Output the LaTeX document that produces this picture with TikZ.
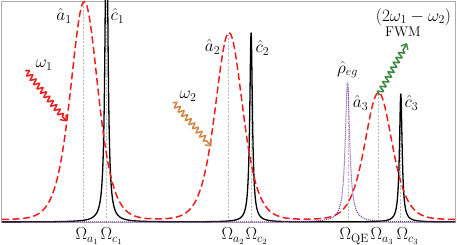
\documentclass[tikz,border=0pt]{standalone}
\usetikzlibrary{decorations.pathmorphing,arrows.meta}
\definecolor{curvered}{RGB}{235,30,30}
\definecolor{qepurple}{RGB}{112,48,160}
\definecolor{pumporange}{RGB}{210,135,70}
\definecolor{fwmgreen}{RGB}{60,135,65}
\tikzset{
  declare function={
    sh(\x,\c,\w)=(2/(exp(min(abs(\x-\c)/\w,8))+exp(-min(abs(\x-\c)/\w,8))))^2;
    lor(\x,\c,\g)=1/(1+(min(abs(\x-\c)/\g,100))^2);
    redf(\x)=219.5-218*sh(\x,84.3,18.3)-187*sh(\x,229,18.3)-127*sh(\x,378.5,18.3);
    blkf(\x)=222-350*lor(\x,106.5,1.6)-189*lor(\x,251.1,1.6)-128*lor(\x,400.8,1.6);
    purf(\x)=222-139*lor(\x,347.5,2.7);
  },
  frame/.style={draw=gray!65,line width=0.7pt},
  marker/.style={draw=gray!55,line width=0.45pt,dash pattern=on 2pt off 1.5pt},
  cavity/.style={draw=curvered,line width=1.5pt,dash pattern=on 7pt off 3.5pt},
  mode/.style={draw=black,line width=1.3pt},
  qe/.style={draw=qepurple,line width=1pt,dash pattern=on 1pt off 1pt},
  wavy/.style={line width=1.5pt,decorate,
    decoration={snake,segment length=5.5pt,amplitude=2.6pt,pre length=1pt,post length=6pt},
    -{Straight Barb[length=4.5pt,width=8pt,line width=1.4pt]}},
  lbl/.style={font=\fontsize{16.5}{19}\selectfont,inner sep=0pt},
  txt/.style={font=\fontsize{14}{17}\selectfont,inner sep=0pt},
}
\begin{document}
\begin{tikzpicture}[x=1pt,y=-1pt]
\useasboundingbox (0,0) rectangle (457,245);
\draw[frame] (1.8,1) rectangle (455.2,222);
\begin{scope}
\clip (1.8,1) rectangle (455.2,224);
% marker lines
\draw[marker] (83.5,222) -- (83.5,2);
\draw[marker] (106.2,222) -- (106.2,2);
\draw[marker] (228.6,222) -- (228.6,34);
\draw[marker] (250.8,222) -- (250.8,34);
\draw[marker] (348,222) -- (348,84);
\draw[marker] (378.4,222) -- (378.4,94);
\draw[marker] (400.7,222) -- (400.7,95);
% black cavity modes
\draw[mode,line join=round] plot[domain=2:96,samples=48] (\x,{blkf(\x)})
  -- plot[domain=96:117,samples=211] (\x,{blkf(\x)})
  -- plot[domain=117:240,samples=124] (\x,{blkf(\x)})
  -- plot[domain=240:262,samples=221] (\x,{blkf(\x)})
  -- plot[domain=262:390,samples=129] (\x,{blkf(\x)})
  -- plot[domain=390:411,samples=211] (\x,{blkf(\x)})
  -- plot[domain=411:455,samples=45] (\x,{blkf(\x)});
% red dashed plasmon modes
\draw[cavity] plot[domain=2:455,samples=320,smooth] (\x,{redf(\x)});
% purple dotted QE
\draw[qe] plot[domain=2:330,samples=40] (\x,{purf(\x)})
  -- plot[domain=330:365,samples=176] (\x,{purf(\x)})
  -- plot[domain=365:455,samples=40] (\x,{purf(\x)});
\end{scope}
% labels
\node[lbl] (a1) at (64,16) {$\hat{a}_1$};
\node[lbl] (c1) at (117.5,16) {$\hat{c}_1$};
\node[lbl] (a2) at (212.5,47) {$\hat{a}_2$};
\node[lbl] (c2) at (262.5,48) {$\hat{c}_2$};
\node[lbl] (rho) at (347.5,69.5) {$\hat{\rho}_{eg}$};
\node[lbl] (a3) at (360.5,103) {$\hat{a}_3$};
\node[lbl] (c3) at (411.5,103) {$\hat{c}_3$};
\node[lbl] (w1) at (44,65) {$\omega_1$};
\node[lbl] (w2) at (188,96) {$\omega_2$};
\node[lbl] (fwmf) at (413.5,17) {$(2\omega_1-\omega_2)$};
\node[txt] (fwm) at (403,31.5) {FWM};
% bottom frequency labels
\node[lbl,anchor=base west] (Oa1) at (75.5,240) {$\Omega_{a_1}$};
\node[lbl,anchor=base west] (Oc1) at (100.5,240) {$\Omega_{c_1}$};
\node[lbl,anchor=base west] (Oa2) at (221.5,240) {$\Omega_{a_2}$};
\node[lbl,anchor=base west] (Oc2) at (245.5,240) {$\Omega_{c_2}$};
\node[lbl,anchor=base west] (OQE) at (339.5,240) {$\Omega_{\mathrm{QE}}$};
\node[lbl,anchor=base west] (Oa3) at (370.5,240) {$\Omega_{a_3}$};
\node[lbl,anchor=base west] (Oc3) at (396.5,240) {$\Omega_{c_3}$};
% wavy arrows
\coordinate (w1s) at (25.5,70);
\coordinate (w1e) at (66.5,121.5);
\coordinate (w2s) at (173,102);
\coordinate (w2e) at (211.5,146.5);
\coordinate (fs) at (378.5,95);
\coordinate (fe) at (407,43);
\draw[wavy,draw=curvered] (w1s) -- (w1e);
\draw[wavy,draw=pumporange] (w2s) -- (w2e);
\draw[wavy,draw=fwmgreen] (fs) -- (fe);
\end{tikzpicture}
\end{document}
